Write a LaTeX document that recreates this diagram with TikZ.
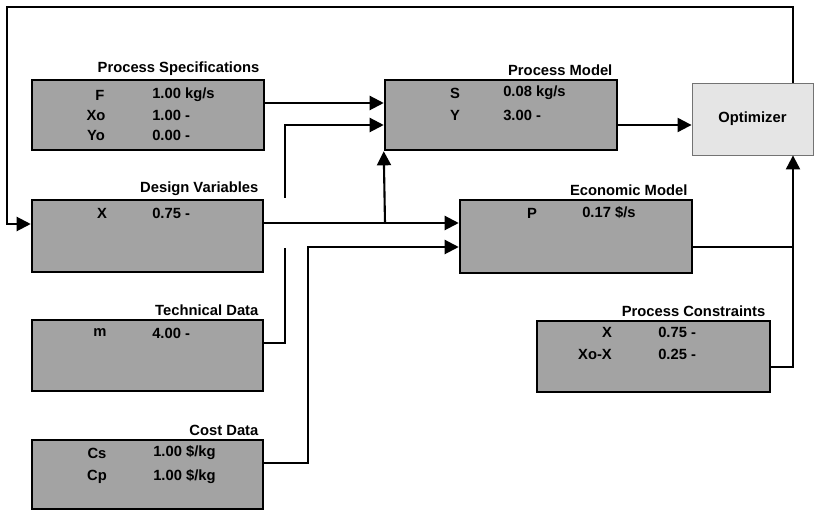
\documentclass[tikz,border=0pt]{standalone}
\usepackage{fontspec}
\setmainfont{Liberation Sans}
\usetikzlibrary{arrows.meta,fit}

\begin{document}
\begin{tikzpicture}[x=0.025cm,y=-0.025cm,
  box/.style={draw,line width=1.8pt,fill=black!36,inner sep=0pt},
  title/.style={anchor=south east,inner xsep=4pt,inner ysep=2pt,font=\fontsize{10.5}{12}\selectfont\bfseries},
  txt/.style={inner sep=0pt,font=\fontsize{10.5}{12}\selectfont\bfseries},
  val/.style={txt,anchor=west},
  wire/.style={line width=1.5pt},
  arr/.style={wire,-{Triangle[length=10pt,width=10pt]}}]

\useasboundingbox (0,0) rectangle (818,511);

% boxes
\node[box,fit={(32,80) (264,150)}] (spec) {};
\node[box,fit={(385,80) (617,150)}] (model) {};
\node[draw=black!55,line width=0.6pt,fill=black!10,inner sep=0pt,fit={(692,83) (813,155)}] (opt) {};
\node[box,fit={(32,200) (263,272)}] (design) {};
\node[box,fit={(460,200) (692,273)}] (econ) {};
\node[box,fit={(32,320) (263,391)}] (tech) {};
\node[box,fit={(32,440) (263,509)}] (cost) {};
\node[box,fit={(537,321) (770,392)}] (cons) {};

% titles
\node[title] (specT) at (spec.north east) {Process Specifications};
\node[title] (modelT) at (model.north east) {Process Model};
\node[title] (designT) at (design.north east) {Design Variables};
\node[title] (econT) at (econ.north east) {Economic Model};
\node[title] (techT) at (tech.north east) {Technical Data};
\node[title] (costT) at (cost.north east) {Cost Data};
\node[title] (consT) at (cons.north east) {Process Constraints};

% contents
\node[txt] (specF) at (100,95) {F};
\node[val] (specFv) at (152,95) {1.00 kg/s};
\node[txt] (specXo) at (96,115) {Xo};
\node[val] (specXov) at (152,115) {1.00 -};
\node[txt] (specYo) at (96,135) {Yo};
\node[val] (specYov) at (152,135) {0.00 -};

\node[txt] (modelS) at (455,93) {S};
\node[val] (modelSv) at (503,93) {0.08 kg/s};
\node[txt] (modelY) at (455,115) {Y};
\node[val] (modelYv) at (503,115) {3.00 -};

\node[txt] (optT) at (opt.center) {Optimizer};

\node[txt] (designX) at (102,213) {X};
\node[val] (designXv) at (152,213) {0.75 -};

\node[txt] (econP) at (532,213) {P};
\node[val] (econPv) at (582,213) {0.17 \$/s};

\node[txt] (techm) at (100,333) {m};
\node[val] (techmv) at (152,333) {4.00 -};

\node[txt] (costCs) at (97,453) {Cs};
\node[val] (costCsv) at (153,453) {1.00 \$/kg};
\node[txt] (costCp) at (97,477) {Cp};
\node[val] (costCpv) at (153,477) {1.00 \$/kg};

\node[txt] (consX) at (607,332) {X};
\node[val] (consXv) at (658,332) {0.75 -};
\node[txt] (consXoX) at (595,354) {Xo-X};
\node[val] (consXoXv) at (658,354) {0.25 -};

% connectors
\coordinate (jumpLo) at (285,248);
\coordinate (jumpHi) at (285,198);

\draw[arr] (spec.east |- 0,103) -- (model.west |- 0,103);
\draw[wire] (tech.east |- 0,343) -- (285,343) -- (jumpLo);
\draw[arr] (jumpHi) -- (285,125) -- (model.west |- 0,125);

\draw[arr] (design.east |- 0,223) -- (econ.west |- 0,223);
\draw[arr] (385,223) -- (model.south west);

\draw[arr] (cost.east |- 0,463) -- (308,463) -- (308,247) -- (econ.west |- 0,247);

\draw[arr] (model.east |- 0,125) -- (opt.west |- 0,125);

\draw[wire] (econ.east |- 0,247) -- (793,247);
\draw[arr] (cons.east |- 0,367) -- (793,367) -- (opt.south -| 793,0);

% feedback
\draw[arr] (opt.north -| 793,0) -- (793,7) -- (7,7) -- (7,224) -- (design.west |- 0,224);

\end{tikzpicture}
\end{document}
